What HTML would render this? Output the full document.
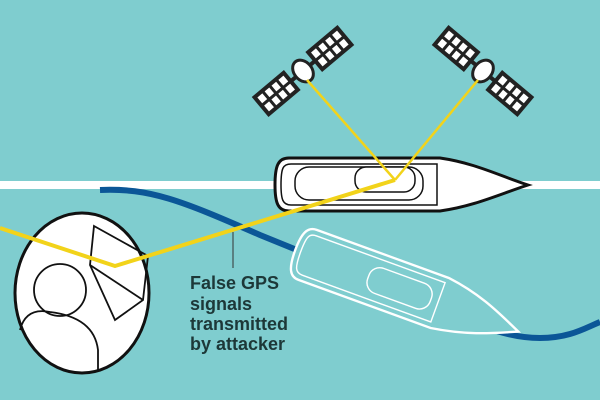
<!DOCTYPE html>
<html><head><style>body{margin:0}svg{display:block}</style></head><body>
<svg width="600" height="400" viewBox="0 0 600 400" xmlns="http://www.w3.org/2000/svg">
<rect width="600" height="400" fill="#7fcdcf"/>
<rect x="0" y="181" width="600" height="8" fill="#fff"/>
<path d="M100,190 C150,188 180,200 260,235 L420,300 C470,320 500,338 540,338 C570,338 585,328 600,322" fill="none" stroke="#0b5697" stroke-width="6"/>
<g transform="translate(306,226) rotate(20) scale(0.95)" fill="#7fcdcf" stroke="#fff" stroke-width="2.5">
<path d="M12,0 L160,0 C200,5 225,18 248,28 C225,38 200,50 160,56 L12,56 C2,56 -2,48 -2,28 C-2,8 2,0 12,0Z"/>
<path d="M14,6 L158,6 L158,50 L14,50 C6,50 4,45 4,28 C4,10 6,6 14,6Z" stroke-width="1.5"/>
<rect x="80" y="14" width="70" height="28" rx="12" stroke-width="1.5"/>
</g>
<g transform="translate(275,158)" fill="#fff" stroke="#111" stroke-width="3">
<path d="M14,0 L165,0 C200,5 225,18 253,27 C225,36 200,48 165,53 L14,53 C3,53 0,45 0,27 C0,8 3,0 14,0Z"/>
<path d="M16,6 L162,6 L162,47 L16,47 C8,47 6,42 6,27 C6,10 8,6 16,6Z" stroke-width="1.5"/>
<rect x="20" y="9" width="128" height="33" rx="14" stroke-width="1.5"/>
<rect x="80" y="9" width="60" height="25" rx="11" stroke-width="1.5"/>
</g>
<g transform="translate(303,71) rotate(-40)">
<rect x="-54" y="-11" width="38" height="22" fill="#fff" stroke="#222" stroke-width="4"/>
<rect x="16" y="-11" width="38" height="22" fill="#fff" stroke="#222" stroke-width="4"/>
<path d="M-44,-11V11M-35,-11V11M-26,-11V11M-54,0H-16M26,-11V11M35,-11V11M44,-11V11M16,0H54" stroke="#222" stroke-width="3"/>
<line x1="-16" y1="0" x2="16" y2="0" stroke="#222" stroke-width="4"/>
<ellipse cx="0" cy="0" rx="9" ry="12" fill="#fff" stroke="#222" stroke-width="3"/>
</g>
<g transform="translate(483,71) rotate(40)">
<rect x="-54" y="-11" width="38" height="22" fill="#fff" stroke="#222" stroke-width="4"/>
<rect x="16" y="-11" width="38" height="22" fill="#fff" stroke="#222" stroke-width="4"/>
<path d="M-44,-11V11M-35,-11V11M-26,-11V11M-54,0H-16M26,-11V11M35,-11V11M44,-11V11M16,0H54" stroke="#222" stroke-width="3"/>
<line x1="-16" y1="0" x2="16" y2="0" stroke="#222" stroke-width="4"/>
<ellipse cx="0" cy="0" rx="9" ry="12" fill="#fff" stroke="#222" stroke-width="3"/>
</g>
<ellipse cx="82" cy="293" rx="67" ry="80" fill="#fff" stroke="#111" stroke-width="3"/>
<g fill="none" stroke="#111" stroke-width="1.8">
<path d="M94,226 L148,256 L143,300 L115,320 L90,265 Z"/>
<path d="M90,265 L143,300"/>
<circle cx="60" cy="290" r="26"/>
<path d="M20,330 C25,310 40,310 50,312 C75,315 95,325 98,350 L98,370"/>
</g>
<polyline points="0,228 115,266 395,180" fill="none" stroke="#f2d31a" stroke-width="4" stroke-linejoin="round"/>
<line x1="395" y1="180" x2="478" y2="80" stroke="#f2d31a" stroke-width="2.5"/>
<line x1="307" y1="80" x2="395" y2="180" stroke="#f2d31a" stroke-width="2.5"/>
<line x1="233" y1="232" x2="233" y2="268" stroke="#333" stroke-width="1"/>
<g font-family="Liberation Sans, sans-serif" font-weight="bold" font-size="18" fill="#1d3838">
<text x="190" y="289">False GPS</text>
<text x="190" y="310">signals</text>
<text x="190" y="330">transmitted</text>
<text x="190" y="350">by attacker</text>
</g>
</svg>
</body></html>
